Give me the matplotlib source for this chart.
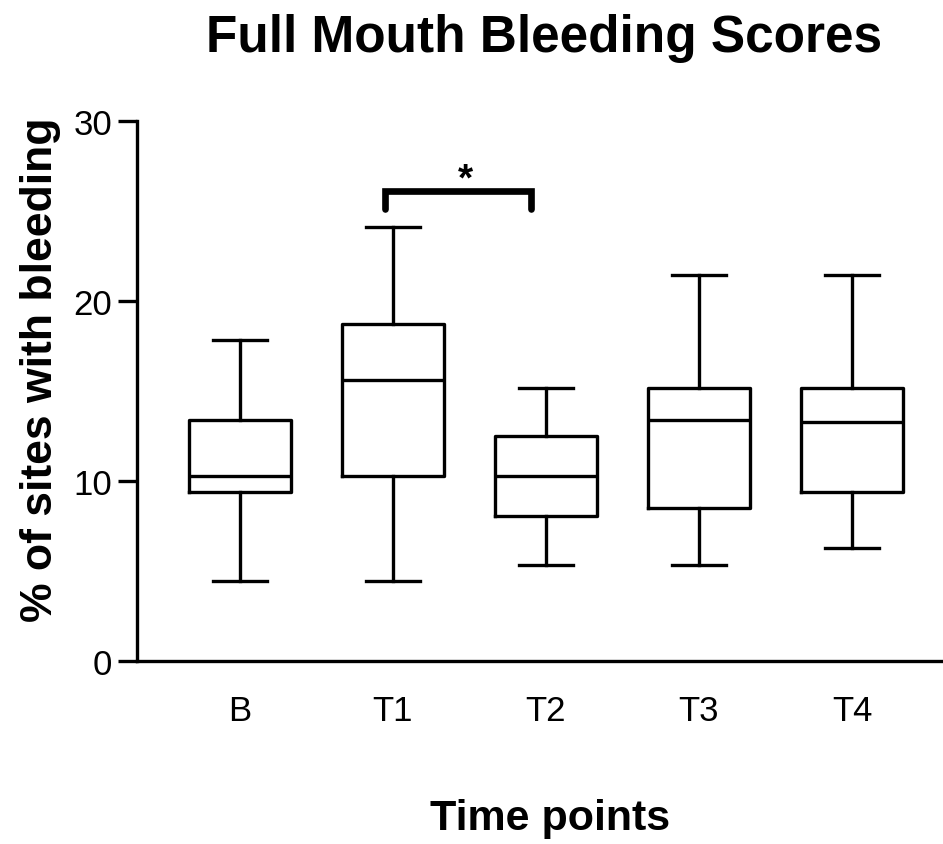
import matplotlib
matplotlib.use("Agg")
import matplotlib.pyplot as plt

plt.rcParams["font.family"] = ["Liberation Sans", "DejaVu Sans"]

# bleeding scores per time point (% of sites), five-number summaries
time_points = ["B", "T1", "T2", "T3", "T4"]
whisker_low = [4.46, 4.46, 5.36, 5.36, 6.25]
q1 = [9.38, 10.27, 8.04, 8.48, 9.38]
medians = [10.27, 15.63, 10.27, 13.39, 13.30]
q3 = [13.39, 18.75, 12.50, 15.18, 15.18]
whisker_high = [17.86, 24.11, 15.18, 21.43, 21.43]

# significance bracket between T1 and T2
bracket_span = [1.95, 2.90]
bracket_y = 26.1
bracket_drop = 1.0
bracket_label = "*"

y_ticks = [0, 10, 20, 30]

stats = []
for i, name in enumerate(time_points):
    stats.append({
        "label": name,
        "whislo": whisker_low[i],
        "q1": q1[i],
        "med": medians[i],
        "q3": q3[i],
        "whishi": whisker_high[i],
        "fliers": [],
    })

fig = plt.figure(figsize=(9.43, 8.45), dpi=100)
ax = fig.add_axes([0.1453, 0.2166, 0.8547, 0.639])

line = dict(color="black", linewidth=2.4)
positions = list(range(1, len(time_points) + 1))
ax.bxp(stats, positions=positions, widths=0.67, capwidths=0.35,
       showfliers=False, boxprops=line, whiskerprops=line, capprops=line,
       medianprops=line)

# bracket with asterisk
x0, x1 = bracket_span
ax.plot([x0, x0, x1, x1],
        [bracket_y - bracket_drop, bracket_y, bracket_y, bracket_y - bracket_drop],
        color="black", linewidth=4.8, solid_capstyle="round", solid_joinstyle="miter",
        clip_on=False)
ax.text((x0 + x1) / 2 + 0.05, bracket_y - 0.35, bracket_label, ha="center", va="bottom",
        fontsize=28, fontweight="bold")

ax.set_xlim(0.327, 5.595)
ax.set_ylim(0, 30)
ax.set_yticks(y_ticks)
ax.set_xticks(positions)
ax.set_xticklabels(time_points)

for side in ["top", "right"]:
    ax.spines[side].set_visible(False)
ax.spines["left"].set_linewidth(2.4)
ax.spines["bottom"].set_linewidth(2.4)

ax.tick_params(axis="y", length=14, width=2.4, labelsize=25, pad=4)
ax.tick_params(axis="x", length=0, labelsize=25, pad=24)

fig.text(0.577, 0.9385, "Full Mouth Bleeding Scores", ha="center", va="baseline",
         fontsize=37, fontweight="bold")
fig.text(0.583, 0.018, "Time points", ha="center", va="baseline",
         fontsize=31, fontweight="bold")
fig.text(0.043, 0.562, "% of sites with bleeding", ha="center", va="center",
         rotation=90, fontsize=32, fontweight="bold")

fig.savefig("out.png", dpi=100)
